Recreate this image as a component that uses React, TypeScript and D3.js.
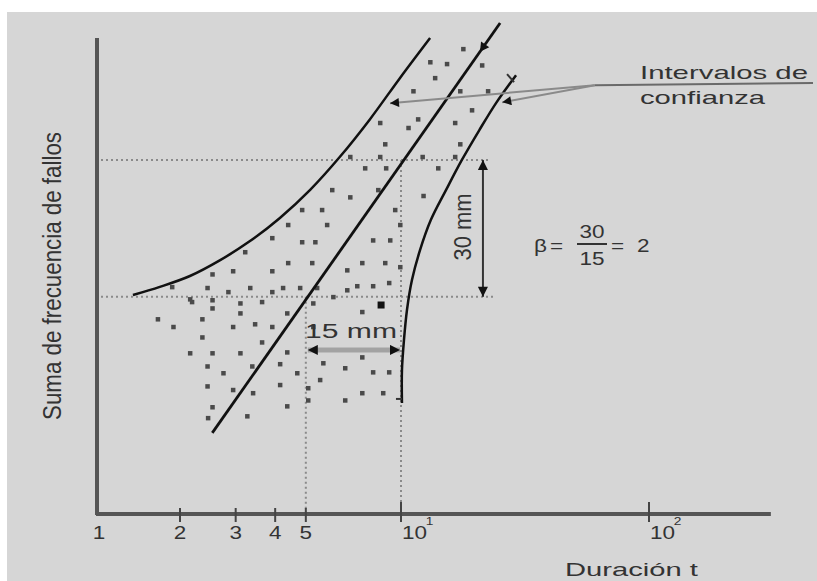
import React from 'react'
import * as d3 from 'd3'

// Weibull paper: duration t (log) vs. cumulative failure frequency (paper mm)
const tickValues = [2, 3, 4, 5, 10, 100]
const tickLabels = ['2', '3', '4', '5', '10', '10']
const tickSup = ['', '', '', '', '1', '2']

// estimated straight line and confidence curves [t, mm]
const fitLine: [number, number][] = [[2.53, 17.9], [25.1, 108.3]]
const upperBand: [number, number][] = [
  [1.35, 48.3], [1.69, 50.1], [2.15, 52.5], [2.68, 56.0], [3.33, 60.2], [4.14, 65.3],
  [5.16, 71.5], [6.41, 78.8], [7.98, 87.1], [9.93, 96.2], [13.1, 105.0],
]
const lowerBand: [number, number][] = [
  [10.09, 24.5], [10.09, 31.8], [10.28, 38.4], [10.57, 45.0], [11.07, 51.6], [11.93, 58.2],
  [13.2, 64.9], [15.2, 71.5], [17.6, 78.1], [20.7, 84.7], [24.2, 90.7], [29.1, 96.8],
]

// observed failures
const scatter: [number, number][] = [
  [17.8, 102.6], [13.1, 99.7], [15.3, 99.3], [21.2, 99.0], [13.7, 96.2], [11.2, 93.3], [17.3, 93.3],
  [22.4, 93.3], [19.3, 89.1], [11.7, 87.1], [8.58, 86.3], [16.5, 86.3], [10.7, 85.2], [8.9, 81.6],
  [17.3, 81.6], [8.58, 78.8], [12.2, 78.8], [16.5, 78.8], [6.9, 78.8],
  [7.69, 76.3], [8.96, 76.3], [14.1, 76.3], [6.05, 71.5], [6.9, 69.9], [8.46, 71.5], [12.3, 70.2],
  [5.62, 67.1], [4.86, 67.1], [9.57, 67.1], [5.83, 63.8], [9.93, 63.8], [4.39, 63.8],
  [8.15, 60.4], [9.23, 60.4], [5.35, 60.0], [4.86, 60.0], [3.91, 60.9], [3.21, 57.8], [5.23, 55.4],
  [7.53, 55.4], [8.9, 55.4], [4.39, 55.4], [9.93, 54.5], [6.75, 53.8], [2.94, 53.6], [3.91, 53.6],
  [2.53, 52.9], [7.26, 50.3], [8.15, 50.3], [9.16, 51.0], [6.75, 49.4], [6.1, 47.9], [1.87, 50.1],
  [2.44, 49.9], [2.84, 49.0], [3.33, 49.9], [3.91, 49.0], [4.23, 49.9], [4.79, 49.9], [5.42, 49.9],
  [2.15, 47.4], [2.53, 47.2], [3.1, 46.5], [3.63, 46.8], [2.18, 46.8], [5.27, 46.5], [2.53, 45.4],
  [3.1, 44.3], [4.36, 44.3], [7.53, 44.6],
  [1.66, 43.0], [2.35, 43.0], [1.89, 41.3], [2.94, 41.3], [3.45, 41.9], [3.91, 41.3], [5.27, 41.3],
  [2.35, 39.0], [3.63, 37.9], [2.15, 35.5], [2.53, 35.5], [3.1, 35.5], [4.36, 35.7], [7.53, 34.6],
  [5.67, 33.3], [2.44, 32.6], [3.38, 32.6], [4.14, 33.1], [6.65, 32.2], [4.69, 31.1], [2.74, 31.1],
  [8.15, 31.3], [9.16, 31.3], [5.54, 29.6], [2.44, 28.2], [2.94, 27.4], [4.14, 28.5], [5.08, 27.8],
  [3.4, 26.7], [7.53, 26.7], [8.77, 26.7], [6.65, 25.1], [5.08, 25.1],
  [2.53, 23.6], [4.36, 23.8], [2.45, 21.2], [3.26, 21.6],
]
const markedPoint: [number, number] = [8.65, 46.1]

// slope reading: 30 mm up for 15 mm across
const refLevels = [47.9, 78.1]
const refDurations = [5, 10]
const refEnd = 23
const rise30At = 21.4
const run15At = 36.2
// leader for "Intervalos de confianza"
const ciJoin: [number, number] = [60.5, 94.6]
const ciTargets: [number, number][] = [[9.23, 90.6], [25.6, 90.8]]

const W = 817
const H = 581
const FONT = '"Liberation Sans", Arial, sans-serif'
const INK = '#333'

const x = d3.scaleLog().domain([1, 2, 10, 100]).range([97, 180, 401, 649])
const y = d3.scaleLinear().domain([0, 105]).range([514, 38])

function SText(props: any) {
  const { px, py, size = 18, anchor = 'start', sx = 1.25, rot = 0, len, children } = props
  return (
    <text
      transform={`translate(${px},${py}) scale(${sx},1)${rot ? ` rotate(${rot})` : ''}`}
      fontSize={size}
      textAnchor={anchor}
      fill={INK}
      fontFamily={FONT}
      textLength={len}
      lengthAdjust={len ? 'spacingAndGlyphs' : undefined}
    >
      {children}
    </text>
  )
}

export default function App() {
  const line = d3.line<[number, number]>().x(d => x(d[0])).y(d => y(d[1]))
  const curve = d3.line<[number, number]>().x(d => x(d[0])).y(d => y(d[1])).curve(d3.curveCatmullRom)

  const x0 = x(1)
  const y0 = y(0)
  const axisEnd = x(310)

  // small arrow on the fitted line near its top
  const a = [x(fitLine[0][0]), y(fitLine[0][1])]
  const b = [x(fitLine[1][0]), y(fitLine[1][1])]
  const ang = Math.atan2(a[1] - b[1], a[0] - b[0]) * 180 / Math.PI
  const tipT = 0.93
  const tip = [a[0] + (b[0] - a[0]) * tipT, a[1] + (b[1] - a[1]) * tipT]

  const junction = [x(ciJoin[0]), y(ciJoin[1])]
  const lbTop = lowerBand[lowerBand.length - 1]
  const lbBottom = lowerBand[0]

  return (
    <svg width={W} height={H} style={{ position: 'absolute', left: 0, top: 0 }}>
      <defs>
        <marker id="ah" viewBox="0 0 10 10" refX="10" refY="5" markerWidth="13" markerHeight="10"
          markerUnits="userSpaceOnUse" orient="auto-start-reverse">
          <path d="M0,0 L10,5 L0,10 z" fill="#111" />
        </marker>
        <marker id="ahs" viewBox="0 0 10 10" refX="10" refY="5" markerWidth="12" markerHeight="9"
          markerUnits="userSpaceOnUse" orient="auto">
          <path d="M0,0 L10,5 L0,10 z" fill="#111" />
        </marker>
      </defs>
      <rect width={W} height={H} fill="#fff" />
      <rect x={7} y={12} width={W - 7} height={H - 12} fill="#d6d6d6" />

      {/* reference dotted lines */}
      {refLevels.map((v, i) => (
        <line key={'h' + i} x1={x0 + 4} x2={x(refEnd) + (i === 0 ? 3 : 0)} y1={y(v)} y2={y(v)}
          stroke="#8a8a8a" strokeWidth={2} strokeDasharray="2,3" />
      ))}
      {refDurations.map((t, i) => (
        <line key={'v' + i} x1={x(t)} x2={x(t)} y1={y(refLevels[i])} y2={y0}
          stroke="#8a8a8a" strokeWidth={2} strokeDasharray="2,3" />
      ))}

      {/* axes */}
      <line x1={x0} x2={x0} y1={y(105)} y2={y0 + 1} stroke="#555" strokeWidth={4} />
      <line x1={x0 - 1} x2={axisEnd} y1={y0} y2={y0} stroke="#555" strokeWidth={4} />
      {tickValues.map((t, i) => (
        <line key={'t' + i} x1={x(t)} x2={x(t)} y1={t >= 10 ? y0 - 12 : y0 - 6} y2={y0 + 8}
          stroke="#444" strokeWidth={2} />
      ))}
      <SText px={x0 + 2} py={539} anchor="middle">1</SText>
      {tickValues.map((t, i) => (
        tickSup[i] ? (
          <SText key={'l' + i} px={x(t) + 1} py={539}>
            {tickLabels[i]}
            <tspan fontSize={11} dx={-1} dy={-14}>{tickSup[i]}</tspan>
          </SText>
        ) : (
          <SText key={'l' + i} px={x(t)} py={539} anchor="middle">{tickLabels[i]}</SText>
        )
      ))}
      <SText px={565} py={576} size={19} sx={1} len={133}>Duración t</SText>
      <SText px={61} py={276} size={20} sx={1.3} rot={-90} anchor="middle" len={288}>
        Suma de frecuencia de fallos
      </SText>

      {/* observations */}
      {scatter.map((d, i) => (
        <rect key={'p' + i} x={x(d[0]) - 2} y={y(d[1]) - 2} width={4.5} height={4.5} fill="#4a4a4a" />
      ))}
      <rect x={x(markedPoint[0]) - 3.5} y={y(markedPoint[1]) - 3.5} width={7} height={7} fill="#111" />

      {/* fitted line and confidence curves */}
      <path d={line(fitLine) || ''} fill="none" stroke="#111" strokeWidth={2.8} />
      <path d={curve(upperBand) || ''} fill="none" stroke="#111" strokeWidth={2.5} />
      <path d={curve(lowerBand) || ''} fill="none" stroke="#111" strokeWidth={2.5} />
      <path d="M0,0 L-9,-5 L-9,5 z" fill="#111"
        transform={`translate(${tip[0]},${tip[1]}) rotate(${ang})`} />
      {/* small end strokes on the lower band */}
      <line x1={x(lbTop[0]) - 9} y1={y(lbTop[1]) - 1} x2={x(lbTop[0]) - 2} y2={y(lbTop[1]) + 7}
        stroke="#333" strokeWidth={2} />
      <line x1={x(lbBottom[0]) - 6} y1={y(lbBottom[1]) - 4} x2={x(lbBottom[0])} y2={y(lbBottom[1]) - 4}
        stroke="#333" strokeWidth={2} />

      {/* slope construction */}
      <line x1={x(rise30At)} x2={x(rise30At)} y1={y(refLevels[1])} y2={y(refLevels[0])}
        stroke="#333" strokeWidth={2} markerStart="url(#ah)" markerEnd="url(#ah)" />
      <line x1={x(refDurations[0]) + 2} x2={x(refDurations[1]) - 1} y1={y(run15At)} y2={y(run15At)}
        stroke="#a3a3a3" strokeWidth={5} />
      <line x1={x(refDurations[0]) + 2} x2={x(refDurations[1]) - 1} y1={y(run15At)} y2={y(run15At)}
        stroke="none" strokeWidth={1} markerStart="url(#ah)" markerEnd="url(#ah)" />
      <SText px={471} py={227} size={20} sx={1.15} rot={-90} anchor="middle" len={67}>30 mm</SText>
      <SText px={305} py={338} size={20} sx={1} len={92}>15 mm</SText>

      {/* beta */}
      <SText px={534} py={252} size={18}>β</SText>
      <SText px={550} py={252} size={18}>=</SText>
      <SText px={592} py={238} size={18} anchor="middle">30</SText>
      <line x1={577} x2={607} y1={244} y2={244} stroke={INK} strokeWidth={2} />
      <SText px={592} py={265} size={18} anchor="middle">15</SText>
      <SText px={611} py={252} size={18}>=</SText>
      <SText px={637} py={252} size={18}>2</SText>

      {/* confidence interval label */}
      <line x1={813} x2={junction[0]} y1={83} y2={junction[1]} stroke="#6a6a6a" strokeWidth={2} />
      {ciTargets.map((d, i) => (
        <line key={'c' + i} x1={junction[0]} y1={junction[1]} x2={x(d[0])} y2={y(d[1])}
          stroke="#8a8a8a" strokeWidth={2} markerEnd="url(#ahs)" />
      ))}
      <SText px={640} py={79} size={19} sx={1} len={168}>Intervalos de</SText>
      <SText px={640} py={104} size={19} sx={1} len={125}>confianza</SText>
    </svg>
  )
}
